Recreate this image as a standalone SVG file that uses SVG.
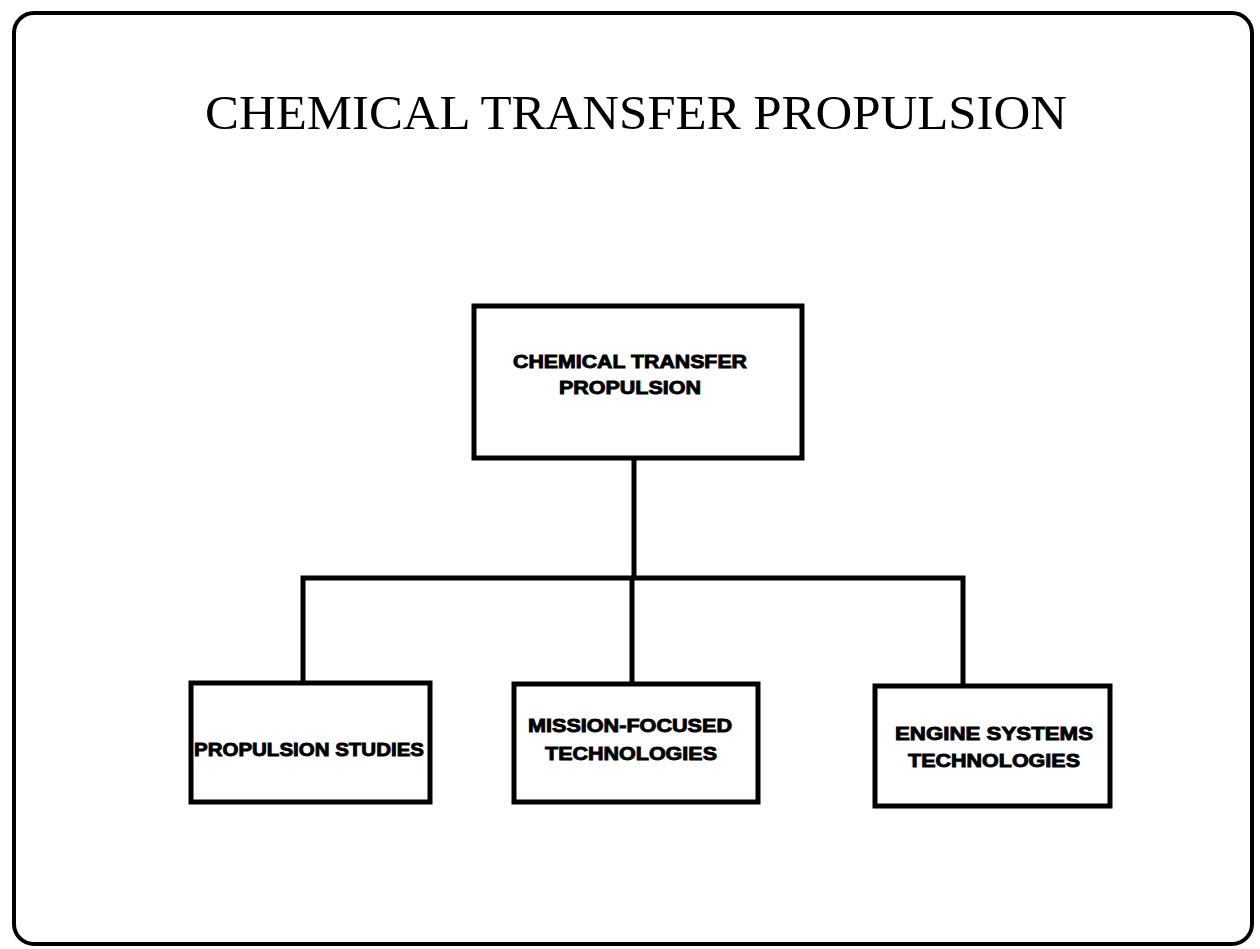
<svg xmlns="http://www.w3.org/2000/svg" width="1260" height="949" viewBox="0 0 1260 949">
<style>
.frame{fill:none;stroke:#000;stroke-width:4}
.box{fill:#fff;stroke:#000;stroke-width:5}
.conn{fill:none;stroke:#000;stroke-width:5;stroke-linejoin:miter}
.lbl{font-family:"Liberation Sans",Arial,sans-serif;font-weight:bold;font-size:19px;fill:#000;stroke:#000;stroke-width:0.9;text-anchor:middle}
.title{font-family:"Liberation Serif","Times New Roman",serif;font-size:48px;fill:#000;text-anchor:middle}
</style>
<rect width="1260" height="949" fill="#fff"/>
<rect class="frame" x="14" y="13" width="1238" height="931" rx="20" ry="20"/>
<text class="title" x="636" y="129" textLength="862" lengthAdjust="spacingAndGlyphs">CHEMICAL TRANSFER PROPULSION</text>
<g id="connectors">
<path class="conn" d="M634,458 V578 M303,684 V578 H963 V686 M632,578 V684"/>
</g>
<g id="top">
<rect class="box" x="474" y="306" width="328" height="152"/>
<text class="lbl" x="630" y="368" textLength="234" lengthAdjust="spacingAndGlyphs">CHEMICAL TRANSFER</text>
<text class="lbl" x="630" y="394" textLength="142" lengthAdjust="spacingAndGlyphs">PROPULSION</text>
</g>
<g id="studies">
<rect class="box" x="191" y="683" width="239" height="119"/>
<text class="lbl" x="309" y="756" textLength="230" lengthAdjust="spacingAndGlyphs">PROPULSION STUDIES</text>
</g>
<g id="mission">
<rect class="box" x="514" y="684" width="244" height="118"/>
<text class="lbl" x="630" y="732" textLength="204" lengthAdjust="spacingAndGlyphs">MISSION-FOCUSED</text>
<text class="lbl" x="631" y="760" textLength="172" lengthAdjust="spacingAndGlyphs">TECHNOLOGIES</text>
</g>
<g id="engine">
<rect class="box" x="875" y="686" width="235" height="120"/>
<text class="lbl" x="994" y="740" textLength="198" lengthAdjust="spacingAndGlyphs">ENGINE SYSTEMS</text>
<text class="lbl" x="994" y="767" textLength="172" lengthAdjust="spacingAndGlyphs">TECHNOLOGIES</text>
</g>
</svg>
